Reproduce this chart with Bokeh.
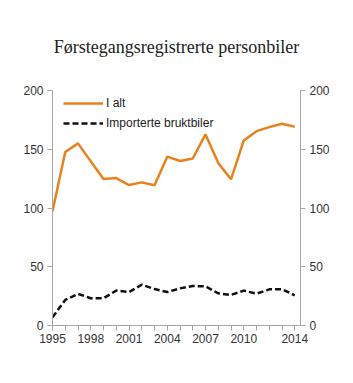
from bokeh.plotting import figure
from bokeh.models import LinearAxis, Range1d, Legend, LegendItem, FixedTicker, Title
from bokeh.embed import file_html
from bokeh.resources import INLINE

years = list(range(1995, 2015))
i_alt = [97.2, 147.6, 155.0, 139.7, 124.6, 125.5, 119.5, 121.8, 119.3, 143.7,
         140.0, 142.2, 162.6, 138.2, 124.4, 157.5, 165.4, 168.8, 171.7, 169.2]
importerte = [7.0, 21.8, 26.9, 23.2, 23.2, 29.7, 28.5, 34.7, 31.0, 28.5,
              31.6, 33.6, 33.3, 27.4, 26.0, 29.7, 27.1, 30.8, 30.8, 25.7]
x_ticks = [1995, 1998, 2001, 2004, 2007, 2010, 2014]
y_ticks = [0, 50, 100, 150, 200]

p = figure(width=353, height=383, output_backend="svg", toolbar_location=None,
           x_range=Range1d(1995, 2014.45), y_range=Range1d(0, 200),
           min_border_left=52, min_border_right=53, min_border_top=90, min_border_bottom=58)
p.outline_line_color = None
p.xgrid.visible = False
p.ygrid.visible = False
p.background_fill_color = "white"
p.border_fill_color = "white"

t = Title(text="Førstegangsregistrerte personbiler", align="center",
          text_font="Liberation Serif", text_font_size="18px", text_font_style="normal",
          text_color="#222222", offset=0, standoff=68)
p.add_layout(t, "above")
p.title.visible = False

r1 = p.line(years, i_alt, line_color="#E8821E", line_width=2.5)
r2 = p.line(years, importerte, line_color="#111111", line_width=2.5, line_dash="6 3")

p.add_layout(LinearAxis(), "right")

axis_color = "#A6A6A6"
for ax in p.xaxis + p.yaxis:
    ax.axis_line_color = axis_color
    ax.major_tick_line_color = axis_color
    ax.minor_tick_line_color = None
    ax.major_tick_in = 0
    ax.major_tick_out = 5
    ax.major_label_text_font = "Liberation Sans"
    ax.major_label_text_font_size = "12px"
    ax.major_label_text_color = "#333333"

p.xaxis.ticker = FixedTicker(ticks=years)
p.xaxis.major_label_overrides = {y: (str(y) if y in x_ticks else "") for y in years}
p.xaxis.major_label_standoff = 3
for ax in p.yaxis:
    ax.ticker = FixedTicker(ticks=y_ticks)
    ax.major_label_standoff = 4

legend = Legend(items=[LegendItem(label="I alt", renderers=[r1]),
                       LegendItem(label="Importerte bruktbiler", renderers=[r2])],
                location=(11, 194), border_line_color=None, background_fill_alpha=0,
                label_text_font="Liberation Sans", label_text_font_size="12px",
                label_text_color="#222222", glyph_width=40, glyph_height=16,
                label_height=16, spacing=4, label_standoff=3,
                margin=0, padding=0)
p.add_layout(legend)

open("out.html", "w").write(file_html(p, INLINE))
